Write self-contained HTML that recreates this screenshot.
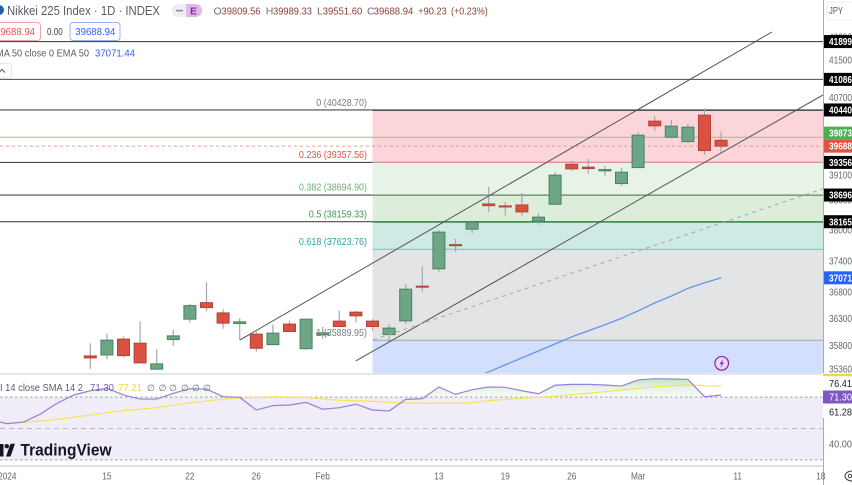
<!DOCTYPE html>
<html lang="en">
<head>
<meta charset="utf-8">
<title>Nikkei 225 Index chart</title>
<style>
  html,body{margin:0;padding:0;background:#fff;width:852px;height:485px;overflow:hidden}
  #chart{display:block;filter:blur(.35px)}
  text{font-family:"Liberation Sans",sans-serif;font-size:10px}
  .fib-0{fill:#fbd5d9}.fib-1{fill:#e6f3e6}.fib-2{fill:#dcedda}.fib-3{fill:#cfeae5}.fib-4{fill:#e3e4e6}.fib-5{fill:#d2e0fd}
  .fl-0{stroke:#555}.fl-1{stroke:#f2a0a8}.fl-2{stroke:#5c8a5f}.fl-3{stroke:#3f9150}.fl-4{stroke:#7fc9b8}.fl-5{stroke:#a9adb5}
  .ft-0{fill:#787b86}.ft-1{fill:#e0534a}.ft-2{fill:#6fae6f}.ft-3{fill:#3f9a52}.ft-4{fill:#26a69a}.ft-5{fill:#787b86}
  .val{fill:#8a3f37}.lab{fill:#6a6d78}
</style>
</head>
<body>
<svg id="chart" width="852" height="485" viewBox="0 0 852 485" xmlns="http://www.w3.org/2000/svg">
  <defs>
    <linearGradient id="rsiGrad" gradientUnits="userSpaceOnUse" x1="0" y1="378" x2="0" y2="397.5">
      <stop offset="0" stop-color="#bfe3c3"/>
      <stop offset="0.5" stop-color="#e6f4e6"/>
      <stop offset="1" stop-color="#f7fbf7"/>
    </linearGradient>
    <clipPath id="plotClip"><rect x="0" y="0" width="823" height="373"/></clipPath>
    <clipPath id="rsiClip"><rect x="0" y="375" width="823" height="90"/></clipPath>
    <clipPath id="rsiTop"><rect id="rsiTopRect" x="0" y="375" width="823" height="22.4"/></clipPath>
  </defs>

  <rect x="0" y="0" width="852" height="485" fill="#fff"/>
  <g id="fibFills" clip-path="url(#plotClip)"></g>
  <g id="hLines" clip-path="url(#plotClip)"></g>
  <g id="fibLines" clip-path="url(#plotClip)"></g>
  <g id="candles" clip-path="url(#plotClip)"></g>
  <polyline id="emaLine" fill="none" stroke="#5b8cf5" stroke-width="1.2" clip-path="url(#plotClip)"/>
  <g id="channel" clip-path="url(#plotClip)"></g>
  <g id="fibLabels"></g>

  <g>
    <circle cx="721.7" cy="363.3" r="6.8" fill="#e4dcf6" stroke="#9c27b0" stroke-width="1.3"/>
    <path d="M723.5 358.8 L719.5 364 L721.6 364 L720 367.8 L724.2 362.6 L722 362.6 Z" fill="#9c27b0"/>
  </g>

  <!-- pane separators -->
  <rect x="0" y="373" width="823" height="2" fill="#e4e6ec"/>
  <rect x="0" y="465" width="823" height="2" fill="#dcdee3"/>

  <!-- RSI pane -->
  <g id="rsiPane" clip-path="url(#rsiClip)"></g>

  <!-- TradingView logo -->
  <g>
    <path d="M-5 444 H3.5 V456.5 H-1 V448.5 H-5 Z" fill="#131722"/>
    <circle cx="6.8" cy="446.2" r="2.2" fill="#131722"/>
    <path d="M6 456.5 L10.5 443.8 H15 L10.5 456.5 Z" fill="#131722"/>
    <text x="20.5" y="455.5" style="font-size:17px;font-weight:700" fill="#131722" textLength="91" lengthAdjust="spacingAndGlyphs">TradingView</text>
  </g>

  <!-- legend -->
  <g>
    <circle cx="-1" cy="10" r="5" fill="#1e5fa8"/>
    <text x="7" y="15" style="font-size:13.2px" fill="#5a5d68" textLength="153" lengthAdjust="spacingAndGlyphs">Nikkei 225 Index · 1D · INDEX</text>
    <g>
      <rect x="172" y="4" width="30" height="13" rx="6.5" fill="#eceef2"/>
      <path d="M186 4 H195.5 A6.5 6.5 0 0 1 195.5 17 H186 Z" fill="#dfb9e8"/>
      <rect x="176" y="9.8" width="7" height="1.6" fill="#8a8d96"/>
      <text x="190" y="14.5" style="font-size:10.5px;font-weight:700" fill="#8e24aa">E</text>
    </g>
    <text x="213.5" y="14.3" class="lab" style="font-size:10.5px">O</text>
    <text x="221.5" y="14.3" class="val" style="font-size:10.5px" textLength="39" lengthAdjust="spacingAndGlyphs">39809.56</text>
    <text x="265.7" y="14.3" class="lab" style="font-size:10.5px">H</text>
    <text x="273" y="14.3" class="val" style="font-size:10.5px" textLength="39" lengthAdjust="spacingAndGlyphs">39989.33</text>
    <text x="317" y="14.3" class="lab" style="font-size:10.5px">L</text>
    <text x="322.7" y="14.3" class="val" style="font-size:10.5px" textLength="39.6" lengthAdjust="spacingAndGlyphs">39551.60</text>
    <text x="367" y="14.3" class="lab" style="font-size:10.5px">C</text>
    <text x="373.7" y="14.3" class="val" style="font-size:10.5px" textLength="39.6" lengthAdjust="spacingAndGlyphs">39688.94</text>
    <text x="418.3" y="14.3" class="val" style="font-size:10.5px" textLength="28.4" lengthAdjust="spacingAndGlyphs">+90.23</text>
    <text x="451" y="14.3" class="val" style="font-size:10.5px" textLength="36.7" lengthAdjust="spacingAndGlyphs">(+0.23%)</text>

    <rect x="-12" y="22.5" width="52.5" height="18" rx="3" fill="#fff" stroke="#f7a1a8"/>
    <text x="-5" y="35" fill="#ef5350" textLength="40" lengthAdjust="spacingAndGlyphs" style="font-size:10.5px">39688.94</text>
    <text x="47" y="35" fill="#444" textLength="15.7" lengthAdjust="spacingAndGlyphs" style="font-size:10px">0.00</text>
    <rect x="70" y="22.5" width="50" height="18" rx="3" fill="#fff" stroke="#93b4f7"/>
    <text x="75.3" y="35" fill="#2962ff" textLength="40" lengthAdjust="spacingAndGlyphs" style="font-size:10.5px">39688.94</text>

    <text x="-4" y="56.5" fill="#5a5d68" textLength="93" lengthAdjust="spacingAndGlyphs" style="font-size:10.5px">MA 50 close 0 EMA 50</text>
    <text x="95" y="56.5" fill="#2962ff" textLength="40" lengthAdjust="spacingAndGlyphs" style="font-size:10.5px">37071.44</text>
    <rect x="-8" y="63.5" width="19.5" height="14.5" rx="2.5" fill="#fff" stroke="#e4e6ea"/>
    <path d="M-1 72.5 L2 69.5 L5 72.5" fill="none" stroke="#555" stroke-width="1"/>
  </g>

  <g>
    <text x="0" y="391" fill="#5a5d68" textLength="83" lengthAdjust="spacingAndGlyphs" style="font-size:10.5px">I 14 close SMA 14 2</text>
    <text x="90" y="391" fill="#7e57c2" textLength="24" lengthAdjust="spacingAndGlyphs" style="font-size:10.5px">71.30</text>
    <text x="118" y="391" fill="#f4d93c" textLength="24" lengthAdjust="spacingAndGlyphs" style="font-size:10.5px">77.21</text>
    <text x="147 158.6 169 181 192 203" y="391" fill="#6a6d78" style="font-size:9px">∅∅∅∅∅∅</text>
  </g>

  <!-- price axis -->
  <rect x="823" y="0" width="29" height="373" fill="#fff"/>
  <rect x="823" y="375" width="29" height="90" fill="#fff"/>
  <g id="priceAxis"></g>
  <line x1="823.5" y1="0" x2="823.5" y2="373" stroke="#a9abb0"/>
  <line x1="823.5" y1="418" x2="823.5" y2="485" stroke="#a9abb0"/>
  <rect x="827" y="2" width="30" height="18" rx="3" fill="#fff" stroke="#eceef1"/>
  <text x="829" y="14" fill="#555" textLength="14" lengthAdjust="spacingAndGlyphs">JPY</text>

  <rect x="823" y="373.8" width="29" height="2.4" fill="#f5d63d"/>
  <text x="829" y="387" fill="#222" textLength="23" lengthAdjust="spacingAndGlyphs">76.41</text>
  <rect x="823" y="390.5" width="29" height="13" fill="#7e57c2"/>
  <text x="829" y="400.7" fill="#fff" textLength="23" lengthAdjust="spacingAndGlyphs">71.30</text>
  <text x="829" y="415.5" fill="#222" textLength="23" lengthAdjust="spacingAndGlyphs">61.28</text>
  <text x="829" y="447.5" fill="#666" textLength="23" lengthAdjust="spacingAndGlyphs">40.00</text>

  <!-- time axis -->
  <g id="timeAxis"></g>
  <g>
    <path d="M845 476 a7 5 0 0 1 14 0 a7 5 0 0 1 -14 0" fill="none" stroke="#444" stroke-width="1.1"/>
    <circle cx="850" cy="476" r="1.7" fill="none" stroke="#444" stroke-width="1"/>
  </g>
</svg>

<script>
// ---- chart data ----
const opens  = [35601,35619,35912,35837,35358,35904,36286,36597,36404,36204,36005,35810,36193,35735,35992,36249,36418,36249,35998,36254,36911,37244,37714,38018,38518,38478,38498,38176,38512,39319,39259,39184,38927,39251,40206,39873,39782,40331,39809.56];
const highs  = [35837,36011,35960,36241,35724,36086,36573,36988,36474,36305,36054,36180,36260,36292,36142,36442,36442,36286,36193,36956,37288,38004,37826,38188,38860,38557,38738,38334,39157,39386,39427,39285,39251,39977,40310,40233,40150,40476,39989.33];
const lows   = [35363,35541,35577,35468,35358,35786,36223,36429,36105,35898,35680,35805,36048,35711,35917,36136,36223,36067,35867,36198,36808,37186,37571,37939,38360,38287,38287,38103,38498,39184,39123,39082,38880,39238,40004,39852,39761,39508,39551.60];
const closes = [35565,35893,35607,35473,35455,35973,36541,36504,36211,36236,35743,36024,36054,36286,36030,36148,36348,36148,36118,36854,36892,37959,37694,38156,38484,38463,38360,38255,39097,39224,39230,39210,39157,39915,40108,40102,40081,39598.71,39688.94];

const emaStartBar = 23;
const emaValues = [35180,35308,35437,35565,35693,35823,35955,36067,36180,36301,36442,36592,36722,36869,36975,37071.44];

const rsiStartBar = -6;
const rsiValues = [55.4,53.1,54.2,59.3,66.1,71.4,74.1,75.7,71.4,68.8,68.8,72.5,75.4,75.2,70.3,69.9,61.8,64.6,65,66.7,62.3,63.3,65.5,61.8,61.2,68.6,69,76.5,71.8,74.8,76.5,76.3,74.1,72.2,77.6,78.2,78.2,77.8,77.1,81,81.8,81.6,81.4,70.3,71.30];
const rsiSmaValues = [54.8,53.1,54,54.8,55.9,57.2,58.6,60.1,61.4,62.3,63.3,64.8,66.3,67.6,68.8,69.5,69.9,70.3,70.1,69.9,68.8,68,67.8,67.4,66.7,66.3,66.1,66.1,66.1,66.5,67.8,68.6,69.3,69.9,70.6,71.6,72.5,73.5,74.6,75.7,76.7,77.3,77.8,77.3,77.21];
const rsiBands = [70,50,30];

const fibRatios = ['0','0.236','0.382','0.5','0.618','1'];
const fibPrices = [40428.70,39357.56,38694.90,38159.33,37623.76,35889.95];
const fibStartBar = 17;

const levelPrices = [41899,41086,40440,39356,38696,38165];
const levelTags = ['41899','41086','40440','39356','38696','38165'];
const referencePrice = 39873;

const upperChannel = [[9.02,35898],[41.06,42107]];
const lowerChannel = [[16,35510],[44.14,40755]];
const midChannel = [[17.03,35898],[44.14,38820]];

const priceTicks = [42000,41500,40700,39100,38600,38000,37400,36800,36300,35800,35360];
const timeTickBars = [-5,1,6,10,14,21,25,29,33,39,44];
const timeTickLabels = ['2024','15','22','26','Feb','13','19','26','Mar','11','18'];

// ---- axis functions ----
const xOf = i => 90.3 + 16.6 * i;
const yOf = p => 110.5 + 1930 * Math.log(40428.7 / p);
const rsiY = v => 428.5 - (v - 50) * 1.566;

const NS = 'http://www.w3.org/2000/svg';
function mk(parent, tag, attrs, txt){
  const el = document.createElementNS(NS, tag);
  for (const k in attrs) el.setAttribute(k, attrs[k]);
  if (txt !== undefined) el.textContent = txt;
  parent.appendChild(el);
  return el;
}
function squeeze(t, k){
  t.setAttribute('textLength', (t.getComputedTextLength() * k).toFixed(2));
  t.setAttribute('lengthAdjust', 'spacingAndGlyphs');
}
const $ = id => document.getElementById(id);
const RIGHT = 823;

// ---- fib fills, lines, labels ----
const fibX = xOf(fibStartBar);
fibPrices.forEach((p, i) => {
  const top = yOf(p);
  const bottom = i < fibPrices.length - 1 ? yOf(fibPrices[i + 1]) : 373;
  const r = mk($('fibFills'), 'rect', {x: fibX, y: top, width: RIGHT - fibX, height: bottom - top, class: 'fib-' + i});
  
  
});

// horizontal levels
levelPrices.forEach(p => {
  const l = mk($('hLines'), 'line', {x1: 0, x2: RIGHT, y1: yOf(p), y2: yOf(p), stroke: '#4a4a4a', 'stroke-width': 1.1});
  
  
});
const refLine = mk($('hLines'), 'line', {x1: 0, x2: RIGHT, y1: yOf(referencePrice), y2: yOf(referencePrice), stroke: '#b3b090', 'stroke-width': 1});


const lastLine = mk($('hLines'), 'line', {x1: 0, x2: RIGHT, y1: yOf(closes[38]), y2: yOf(closes[38]), stroke: '#f09a90', 'stroke-width': 1, 'stroke-dasharray': '3 3'});



fibPrices.forEach((p, i) => {
  const l = mk($('fibLines'), 'line', {x1: fibX, x2: RIGHT, y1: yOf(p), y2: yOf(p), 'stroke-width': i === 3 ? 1.5 : 1.1, class: 'fl-' + i});
  
  
  const t = mk($('fibLabels'), 'text', {x: 367, y: yOf(p) - 4.5, 'text-anchor': 'end', class: 'ft-' + i, style: 'font-size:10.4px'}, fibRatios[i] + ' (' + p.toFixed(2) + ')');
  
  
  squeeze(t, 0.86);
});

// ---- candles ----
closes.forEach((c, i) => {
  const o = opens[i], x = xOf(i), up = c >= o;
  const top = yOf(Math.max(o, c)), bot = yOf(Math.min(o, c));
  const w = mk($('candles'), 'line', {x1: x, x2: x, y1: yOf(highs[i]), y2: yOf(lows[i]), stroke: '#a6a8aa', 'stroke-width': 1.2});
  
  
  const b = mk($('candles'), 'rect', {x: x - 6, y: top, width: 12, height: Math.max(bot - top, 1), fill: up ? '#6ca685' : '#db5040', stroke: up ? '#4a8264' : '#b0443a', 'stroke-width': 1});
  
  
});

// ---- EMA ----
$('emaLine').setAttribute('points', emaValues.map((v, i) => xOf(emaStartBar + i) + ',' + yOf(v)).join(' '));

// ---- channel ----
const up = mk($('channel'), 'line', {x1: xOf(upperChannel[0][0]), y1: yOf(upperChannel[0][1]), x2: xOf(upperChannel[1][0]), y2: yOf(upperChannel[1][1]), stroke: '#555', 'stroke-width': 1});


const lo = mk($('channel'), 'line', {x1: xOf(lowerChannel[0][0]), y1: yOf(lowerChannel[0][1]), x2: xOf(lowerChannel[1][0]), y2: yOf(lowerChannel[1][1]), stroke: '#555', 'stroke-width': 1});


const mid = mk($('channel'), 'line', {x1: xOf(midChannel[0][0]), y1: yOf(midChannel[0][1]), x2: xOf(midChannel[1][0]), y2: yOf(midChannel[1][1]), stroke: '#a8aab0', 'stroke-width': 1, 'stroke-dasharray': '4 4'});



// ---- RSI pane ----
const pane = $('rsiPane');
const band = mk(pane, 'rect', {x: 0, y: rsiY(rsiBands[0]), width: RIGHT, height: rsiY(rsiBands[2]) - rsiY(rsiBands[0]), fill: '#f0ecf8'});


$('rsiTopRect').setAttribute('height', rsiY(rsiBands[0]) - 375);
const rsiPts = rsiValues.map((v, i) => xOf(rsiStartBar + i) + ',' + rsiY(v));
const areaPts = [xOf(rsiStartBar) + ',' + rsiY(rsiBands[0])].concat(rsiPts, [xOf(rsiStartBar + rsiValues.length - 1) + ',' + rsiY(rsiBands[0])]);
const area = mk(pane, 'polygon', {points: areaPts.join(' '), fill: 'url(#rsiGrad)', 'clip-path': 'url(#rsiTop)'});


rsiBands.forEach((v, i) => {
  const l = mk(pane, 'line', {x1: 0, x2: RIGHT, y1: rsiY(v), y2: rsiY(v), stroke: '#b6b8c0', 'stroke-width': i === 1 ? 1 : 1.3, 'stroke-dasharray': i === 1 ? '5 4' : '2.5 2.5'});
  
  
});
const sma = mk(pane, 'polyline', {points: rsiSmaValues.map((v, i) => xOf(rsiStartBar + i) + ',' + rsiY(v)).join(' '), fill: 'none', stroke: '#f7e35a', 'stroke-width': 1.2});


const rsi = mk(pane, 'polyline', {points: rsiPts.join(' '), fill: 'none', stroke: '#9a80d6', 'stroke-width': 1.2});



// ---- price axis ----
const axis = $('priceAxis');
const TAG_LEN = 23;
priceTicks.forEach(p => {
  const t = mk(axis, 'text', {x: 829, y: yOf(p) + 3.6, fill: '#666', textLength: TAG_LEN, lengthAdjust: 'spacingAndGlyphs'}, String(p));
  
  
});
levelPrices.forEach((p, i) => {
  const r = mk(axis, 'rect', {x: 823, y: yOf(p) - 6.5, width: 29, height: 13, fill: '#000'});
  
  
  const t = mk(axis, 'text', {x: 829, y: yOf(p) + 3.6, fill: '#fff', style: 'font-weight:700', textLength: TAG_LEN, lengthAdjust: 'spacingAndGlyphs'}, levelTags[i]);
  
  
});
const closeTagY = yOf(closes[38]);
const hiTagY = closeTagY - 13;
const gTag = mk(axis, 'rect', {x: 823, y: hiTagY - 6.5, width: 29, height: 13, fill: '#4caf50'});


const gTxt = mk(axis, 'text', {x: 829, y: hiTagY + 3.6, fill: '#fff', style: 'font-weight:700', textLength: TAG_LEN, lengthAdjust: 'spacingAndGlyphs'}, String(referencePrice));


const rTag = mk(axis, 'rect', {x: 823, y: closeTagY - 6.5, width: 29, height: 13, fill: '#e0533f'});


const rTxt = mk(axis, 'text', {x: 829, y: closeTagY + 3.6, fill: '#fff', style: 'font-weight:700', textLength: TAG_LEN, lengthAdjust: 'spacingAndGlyphs'}, String(Math.floor(closes[38])));


const emaLast = emaValues[emaValues.length - 1];
const bTag = mk(axis, 'rect', {x: 823, y: yOf(emaLast) - 6.5, width: 29, height: 13, fill: '#2962ff'});


const bTxt = mk(axis, 'text', {x: 829, y: yOf(emaLast) + 3.6, fill: '#fff', style: 'font-weight:700', textLength: TAG_LEN, lengthAdjust: 'spacingAndGlyphs'}, String(Math.floor(emaLast)));



// ---- time axis ----
timeTickLabels.forEach((s, i) => {
  const t = mk($('timeAxis'), 'text', {x: xOf(timeTickBars[i]), y: 479.7, 'text-anchor': 'middle', fill: '#666'}, s);
  
  
  squeeze(t, 0.83);
});
</script>
</body>
</html>
